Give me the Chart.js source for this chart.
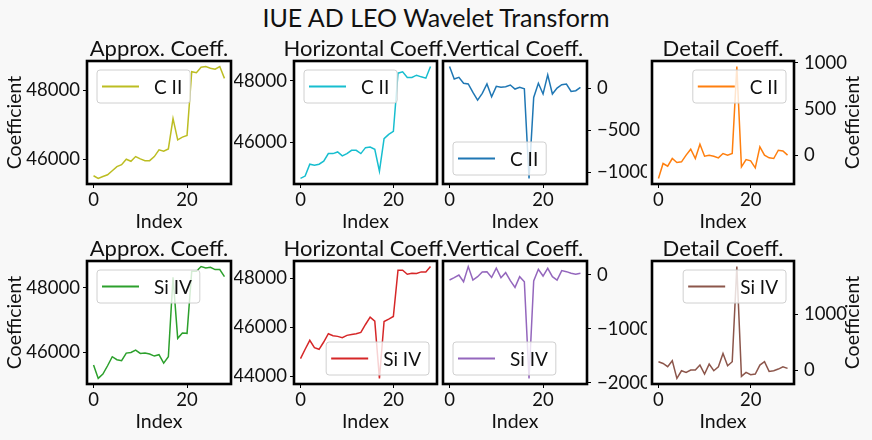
<!DOCTYPE html>
<html>
<head>
<meta charset="utf-8">
<script src="https://cdn.jsdelivr.net/npm/chart.js@4.4.1/dist/chart.umd.min.js"></script>
<style>
  body { margin: 0; background: #f8f8f8; width: 872px; height: 440px; overflow: hidden; position: relative; font-family: Lato, sans-serif; }
  #title { position: absolute; left: 0; top: 2px; width: 872px; text-align: center; font-size: 25px; color: #111; }
  canvas { position: absolute; }
</style>
</head>
<body>
<div id="title">IUE AD LEO Wavelet Transform</div>
<canvas id="p1"></canvas><canvas id="p2"></canvas><canvas id="p3"></canvas><canvas id="p4"></canvas>
<canvas id="p5"></canvas><canvas id="p6"></canvas><canvas id="p7"></canvas><canvas id="p8"></canvas>
<script>
// x positions (sample index)
const indexes = [0,1,2,3,4,5,6,7,8,9,10,11,12,13,14,15,16,17,18,19,20,21,22,23,24,25,26,27,28];
const xTicks = [0, 20];

// C II coefficients
const ciiApprox = [45522,45444,45500,45550,45668,45785,45844,46000,45941,46078,46010,45960,45960,46078,46273,46234,46302,47180,46566,46644,46693,48546,48517,48673,48693,48644,48615,48693,48351];
const ciiHoriz = [44811,44887,45276,45243,45276,45373,45622,45622,45676,45546,45622,45730,45730,45622,45816,45838,45762,45049,46108,46249,46346,48249,48292,48108,48108,48184,48130,48086,48465];
const ciiVert = [254,107,127,56,48,-52,-143,-63,48,-103,20,8,16,36,-12,8,-8,-1071,-111,56,-71,155,-71,0,40,48,-40,-32,8];
const ciiDetail = [-247,-86,-115,-32,-75,-68,4,68,-32,122,-7,4,-7,-25,22,4,22,960,-122,-43,-57,-133,93,4,-25,-32,57,50,4];

// Si IV coefficients
const siivApprox = [45607,45193,45327,45586,45866,45772,45741,45979,46000,46073,45969,45979,45948,45886,45927,45668,45866,48332,46436,46601,46591,48518,48518,48663,48622,48642,48570,48570,48352];
const siivHoriz = [44718,45098,45464,45166,45098,45396,45735,45654,45627,45573,45668,45708,45735,45790,46115,46413,46250,43904,46237,46332,46441,48339,48339,48176,48217,48203,48271,48271,48488];
const siivVert = [-93,-50,0,-125,156,-93,-31,56,62,-44,125,-50,44,-106,-230,-31,-125,-1919,-112,106,-19,125,-31,-93,81,62,31,12,31];
const siivDetail = [149,119,60,167,-149,-12,-42,0,0,89,-71,107,-12,60,298,77,149,1851,-113,-42,-83,-71,89,149,-24,-12,18,60,30];

// y tick values per panel
const ticksApprox = [46000, 48000];
const ticksHorizC = [46000, 48000];
const ticksVertC = [-1000, -500, 0];
const ticksDetailC = [0, 500, 1000];
const ticksHorizS = [44000, 46000, 48000];
const ticksVertS = [-2000, -1000, 0];
const ticksDetailS = [0, 1000];

const fontFam = 'Lato, sans-serif';
const tickSize = 18.5;
const labelSize = 19.5;

function fmt(v) {
  return v < 0 ? '\u2212' + Math.abs(v) : String(v);
}

const deco = {
  id: 'deco',
  beforeDraw(chart, args, o) {
    const a = chart.chartArea, ctx = chart.ctx;
    ctx.save();
    ctx.fillStyle = '#ffffff';
    ctx.fillRect(a.left, a.top, a.right - a.left, a.bottom - a.top);
    ctx.restore();
  },
  afterDraw(chart, args, o) {
    const a = chart.chartArea, ctx = chart.ctx;
    ctx.save();
    // frame
    ctx.strokeStyle = '#000';
    ctx.lineWidth = 2.6;
    ctx.strokeRect(a.left, a.top, a.right - a.left, a.bottom - a.top);
    // subplot title
    ctx.fillStyle = '#111';
    ctx.font = '22px ' + fontFam;
    ctx.textAlign = 'center';
    ctx.textBaseline = 'alphabetic';
    ctx.fillText(o.title, (a.left + a.right) / 2, a.top - 5);
    // legend
    ctx.font = '19px ' + fontFam;
    const tw = ctx.measureText(o.label).width;
    const w = 5 + 37 + 15 + tw + 8, h = 33;
    let x = a.left + 10, y = a.top + 9;
    if (o.loc[1] === 'r') x = a.right - 8 - w;
    if (o.loc[0] === 'l') y = a.bottom - 9 - h;
    ctx.beginPath();
    ctx.roundRect(x, y, w, h, 3);
    ctx.fillStyle = 'rgba(255,255,255,0.8)';
    ctx.fill();
    ctx.strokeStyle = '#d0d0d0';
    ctx.lineWidth = 1;
    ctx.stroke();
    ctx.beginPath();
    ctx.moveTo(x + 5, y + h / 2);
    ctx.lineTo(x + 42, y + h / 2);
    ctx.strokeStyle = o.color;
    ctx.lineWidth = 2;
    ctx.stroke();
    ctx.fillStyle = '#111';
    ctx.textAlign = 'left';
    ctx.textBaseline = 'middle';
    ctx.fillText(o.label, x + 57, y + h / 2 + 1);
    // right-side axis title reading bottom to top
    if (o.rightTitle) {
      ctx.translate(a.right + 59, (a.top + a.bottom) / 2);
      ctx.rotate(-Math.PI / 2);
      ctx.font = labelSize + 'px ' + fontFam;
      ctx.textAlign = 'center';
      ctx.fillText(o.rightTitle, 0, 0);
    }
    ctx.restore();
  }
};

function makePanel(id, box, values, color, title, label, loc, yTicks, side, leftTitle, rightTitle) {
  const ML = 85, MT = 40, MB = 60;
  const cv = document.getElementById(id);
  const w = box.r - box.l + 2 * ML, h = box.b - box.t + MT + MB;
  cv.width = w; cv.height = h;
  cv.style.left = (box.l - ML) + 'px';
  cv.style.top = (box.t - MT) + 'px';
  const yW = leftTitle ? 83.5 : 60;
  const xH = 49;
  const lo = Math.min(...values), hi = Math.max(...values);
  const m = (hi - lo) * 0.05;
  return new Chart(cv, {
    type: 'line',
    data: {
      datasets: [{
        data: indexes.map((x, i) => ({ x: x, y: values[i] })),
        borderColor: color,
        borderWidth: 1.5,
        pointRadius: 0,
        tension: 0,
        fill: false
      }]
    },
    options: {
      responsive: false,
      animation: false,
      devicePixelRatio: 1,
      layout: {
        padding: {
          top: MT,
          bottom: MB - xH,
          left: side === 'left' ? ML - yW : ML,
          right: side === 'right' ? ML - 60 : ML
        }
      },
      plugins: {
        legend: { display: false },
        tooltip: { enabled: false },
        deco: { title: title, label: label, color: color, loc: loc, rightTitle: rightTitle }
      },
      scales: {
        x: {
          type: 'linear',
          min: -1.4, max: 29.4,
          border: { display: false },
          grid: { drawOnChartArea: false, drawTicks: true, tickLength: 4, color: '#000' },
          ticks: { color: '#111', font: { family: fontFam, size: tickSize }, padding: 1, maxRotation: 0, callback: v => fmt(v) },
          afterBuildTicks: s => { s.ticks = xTicks.map(v => ({ value: v })); },
          afterFit: s => { s.height = xH; },
          title: { display: true, text: 'Index', color: '#111', font: { family: fontFam, size: labelSize }, padding: 0 }
        },
        y: {
          position: side,
          min: lo - m, max: hi + m,
          border: { display: false },
          grid: { drawOnChartArea: false, drawTicks: true, tickLength: 4, color: '#000' },
          ticks: { color: '#111', font: { family: fontFam, size: tickSize }, padding: side === 'right' ? 6 : 3, callback: v => fmt(v) },
          afterBuildTicks: s => { s.ticks = yTicks.map(v => ({ value: v })); },
          afterFit: s => { s.width = side === 'right' ? 60 : yW; },
          title: { display: !!leftTitle, text: leftTitle || '', color: '#111', font: { family: fontFam, size: labelSize }, padding: 0 }
        }
      }
    },
    plugins: [deco]
  });
}

const cols = [{ l: 87, r: 231 }, { l: 294, r: 437 }, { l: 443, r: 587 }, { l: 652, r: 794 }];
const rows = [{ t: 61, b: 184 }, { t: 261, b: 384 }];
const bx = (c, r) => ({ l: cols[c].l, r: cols[c].r, t: rows[r].t, b: rows[r].b });

makePanel('p1', bx(0, 0), ciiApprox, '#bcbd22', 'Approx. Coeff.', 'C II', 'ul', ticksApprox, 'left', 'Coefficient', null);
makePanel('p2', bx(1, 0), ciiHoriz, '#17becf', 'Horizontal Coeff.', 'C II', 'ul', ticksHorizC, 'left', null, null);
makePanel('p3', bx(2, 0), ciiVert, '#1f77b4', 'Vertical Coeff.', 'C II', 'll', ticksVertC, 'right', null, null);
makePanel('p4', bx(3, 0), ciiDetail, '#ff7f0e', 'Detail Coeff.', 'C II', 'ur', ticksDetailC, 'right', null, 'Coefficient');
makePanel('p5', bx(0, 1), siivApprox, '#2ca02c', 'Approx. Coeff.', 'Si IV', 'ul', ticksApprox, 'left', 'Coefficient', null);
makePanel('p6', bx(1, 1), siivHoriz, '#d62728', 'Horizontal Coeff.', 'Si IV', 'lr', ticksHorizS, 'left', null, null);
makePanel('p7', bx(2, 1), siivVert, '#9467bd', 'Vertical Coeff.', 'Si IV', 'll', ticksVertS, 'right', null, null);
makePanel('p8', bx(3, 1), siivDetail, '#8c564b', 'Detail Coeff.', 'Si IV', 'ur', ticksDetailS, 'right', null, 'Coefficient');
</script>
</body>
</html>
